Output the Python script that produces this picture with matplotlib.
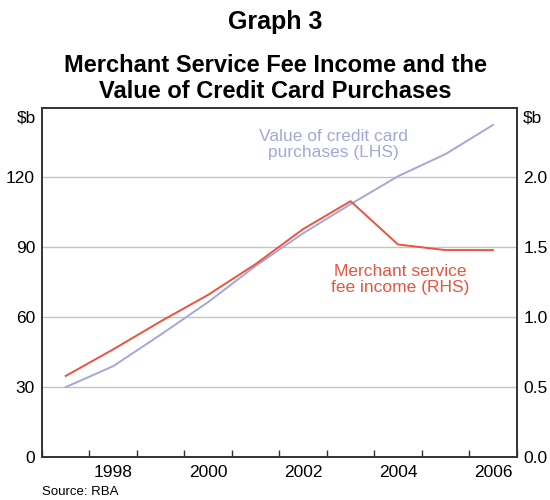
import numpy as np
from matplotlib import pyplot as plt

plt.rcParams['font.family'] = ['Liberation Sans', 'DejaVu Sans']

# annual observations, plotted mid-year
years = [1997, 1998, 1999, 2000, 2001, 2002, 2003, 2004, 2005, 2006]
purchases = [30, 39, 52.5, 66.5, 82, 96, 108.5, 120.5, 130, 142.5]   # $b, LHS
fee_income = [0.58, 0.77, 0.97, 1.16, 1.38, 1.63, 1.83, 1.52, 1.48, 1.48]  # $b, RHS

lhs_ticks = [0, 30, 60, 90, 120]
rhs_ticks = [0.0, 0.5, 1.0, 1.5, 2.0]
year_labels = [1998, 2000, 2002, 2004, 2006]

blue = '#a3a8d8'
red = '#e9543f'
grid = '#c4c4c8'

fig = plt.figure(figsize=(5.5, 5.0), dpi=100)
ax = fig.add_axes([0.0764, 0.086, 0.863, 0.699])
ax2 = ax.twinx()

x = np.array(years) + 0.5
ax.plot(x, purchases, color=blue, lw=1.4, zorder=3)
ax2.plot(x, fee_income, color=red, lw=1.4, zorder=3)

ax.set_xlim(1997, 2007)
ax.set_ylim(0, 150)
ax2.set_ylim(0, 2.5)

for v in lhs_ticks[1:]:
    ax.axhline(v, color=grid, lw=1, zorder=1)

ax.set_yticks(lhs_ticks)
ax.set_yticklabels([str(v) for v in lhs_ticks])
ax2.set_yticks(rhs_ticks)
ax2.set_yticklabels(['%.1f' % v for v in rhs_ticks])
ax.tick_params(axis='y', length=0, pad=5, labelsize=12.5)
ax2.tick_params(axis='y', length=0, pad=5, labelsize=12.5)

ax.set_xticks(range(1997, 2008))
ax.set_xticks([y + 0.5 for y in year_labels], minor=True)
ax.set_xticklabels([])
ax.set_xticklabels([str(y) for y in year_labels], minor=True)
ax.tick_params(axis='x', which='major', direction='in', length=5, width=1, color='#333333')
ax.tick_params(axis='x', which='minor', length=0, pad=6, labelsize=12.5)

for a in (ax, ax2):
    for s in a.spines.values():
        s.set_color('#333333')
        s.set_linewidth(1.2)

ax.text(-0.012, 0.97, '$b', transform=ax.transAxes, ha='right', va='center', fontsize=12.5)
ax.text(1.012, 0.97, '$b', transform=ax.transAxes, ha='left', va='center', fontsize=12.5)

ax.text(2003.13, 134, 'Value of credit card\npurchases (LHS)', color=blue,
        ha='center', va='center', fontsize=12.5, linespacing=1.05)
ax2.text(2004.55, 1.27, 'Merchant service\nfee income (RHS)', color=red,
         ha='center', va='center', fontsize=12.5, linespacing=1.05)

fig.text(0.5, 0.955, 'Graph 3', ha='center', va='center', fontsize=18, fontweight='bold')
fig.text(0.5, 0.843, 'Merchant Service Fee Income and the\nValue of Credit Card Purchases',
         ha='center', va='center', fontsize=17, fontweight='bold', linespacing=1.12)
fig.text(0.0764, 0.016, 'Source: RBA', ha='left', va='center', fontsize=9.5)

fig.savefig('out.png', dpi=100)
